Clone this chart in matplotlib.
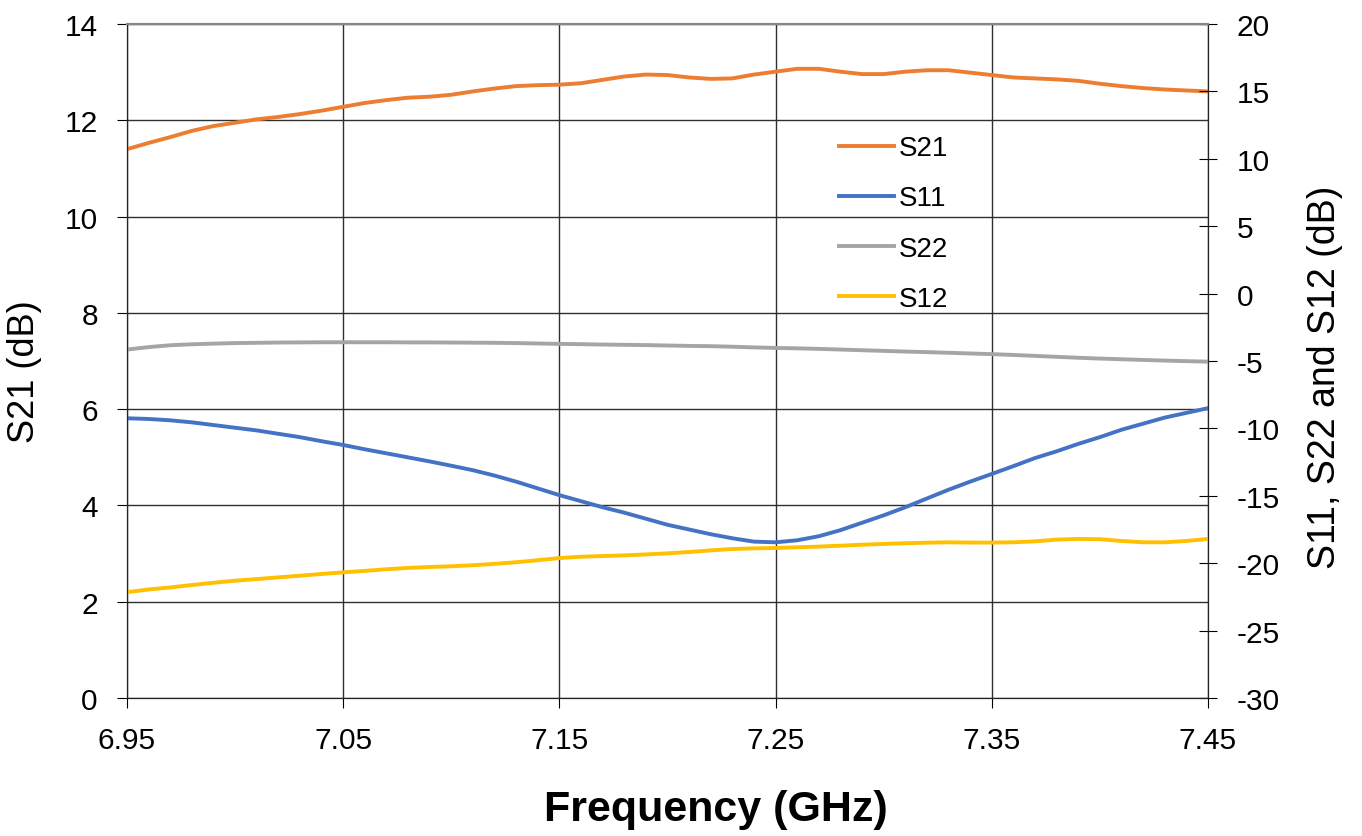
import matplotlib.pyplot as plt
import numpy as np

plt.rcParams["font.family"] = ["Liberation Sans", "DejaVu Sans"]
plt.rcParams["axes.unicode_minus"] = False

# frequency points, 6.95 .. 7.45 GHz every 10 MHz
freq_ghz = np.round(np.linspace(6.95, 7.45, 51), 2)

s21_db = [11.40, 11.53, 11.65, 11.78, 11.88, 11.95, 12.02, 12.07, 12.13, 12.20,
          12.28, 12.36, 12.42, 12.47, 12.49, 12.53, 12.60, 12.66, 12.71, 12.73,
          12.74, 12.77, 12.84, 12.91, 12.95, 12.94, 12.89, 12.86, 12.87, 12.95,
          13.01, 13.07, 13.07, 13.01, 12.96, 12.96, 13.01, 13.04, 13.04, 12.99,
          12.94, 12.89, 12.87, 12.85, 12.82, 12.76, 12.71, 12.67, 12.64, 12.62,
          12.60]

s11_db = [-9.25, -9.30, -9.40, -9.55, -9.75, -9.95, -10.15, -10.40, -10.65, -10.95,
          -11.23, -11.55, -11.85, -12.15, -12.45, -12.77, -13.10, -13.50, -13.95, -14.45,
          -14.95, -15.40, -15.85, -16.25, -16.70, -17.15, -17.50, -17.85, -18.15, -18.40,
          -18.45, -18.30, -18.00, -17.55, -17.00, -16.45, -15.85, -15.20, -14.55, -13.95,
          -13.38, -12.80, -12.20, -11.70, -11.15, -10.65, -10.10, -9.65, -9.20, -8.85,
          -8.50]

s22_db = [-4.15, -3.97, -3.83, -3.76, -3.71, -3.67, -3.65, -3.63, -3.62, -3.61,
          -3.61, -3.61, -3.61, -3.62, -3.62, -3.63, -3.64, -3.65, -3.67, -3.70,
          -3.73, -3.75, -3.78, -3.80, -3.82, -3.85, -3.88, -3.90, -3.94, -3.99,
          -4.03, -4.06, -4.10, -4.15, -4.20, -4.25, -4.30, -4.34, -4.39, -4.44,
          -4.49, -4.55, -4.62, -4.69, -4.76, -4.82, -4.87, -4.92, -4.97, -5.01,
          -5.05]

s12_db = [-22.15, -21.95, -21.80, -21.62, -21.45, -21.30, -21.18, -21.05, -20.93, -20.80,
          -20.68, -20.57, -20.45, -20.35, -20.28, -20.23, -20.15, -20.05, -19.93, -19.78,
          -19.62, -19.52, -19.47, -19.42, -19.35, -19.27, -19.17, -19.05, -18.95, -18.90,
          -18.87, -18.82, -18.77, -18.70, -18.63, -18.57, -18.52, -18.48, -18.45, -18.47,
          -18.47, -18.45, -18.38, -18.25, -18.20, -18.22, -18.35, -18.45, -18.45, -18.35,
          -18.20]

x_ticks = [6.95, 7.05, 7.15, 7.25, 7.35, 7.45]
x_tick_labels = ["6.95", "7.05", "7.15", "7.25", "7.35", "7.45"]

fig = plt.figure(figsize=(13.62, 8.37), dpi=100)
ax = fig.add_axes([0.0932, 0.1649, 0.7937, 0.8052])
ax2 = ax.twinx()

lw = 2.8
l21, = ax.plot(freq_ghz, s21_db, color="#ED7D31", lw=lw, label="S21")
l11, = ax2.plot(freq_ghz, s11_db, color="#4472C4", lw=lw, label="S11")
l22, = ax2.plot(freq_ghz, s22_db, color="#A5A5A5", lw=lw, label="S22")
l12, = ax2.plot(freq_ghz, s12_db, color="#FFC000", lw=lw, label="S12")

ax.set_xlim(6.95, 7.45)
ax.set_ylim(0, 14)
ax.set_yticks(range(0, 15, 2))
ax.set_xticks(x_ticks)
ax.set_xticklabels(x_tick_labels)
ax2.set_ylim(-30, 20)
ax2.set_yticks(range(-30, 21, 5))

ax.grid(True, color="#303030", lw=1.0)
ax.set_axisbelow(True)

ax.tick_params(axis="x", length=7, direction="out", pad=13, labelsize=21.5)
ax.tick_params(axis="y", length=7, direction="out", pad=14, labelsize=21.5)
ax2.tick_params(axis="y", length=13, direction="inout", pad=14, labelsize=21.5)

for a in (ax, ax2):
    a.spines["top"].set_color("#888888")
    a.spines["top"].set_linewidth(1.5)
    a.spines["bottom"].set_color("#222222")
    a.spines["left"].set_color("#222222")
    a.spines["right"].set_color("#222222")

ax.set_ylabel("S21 (dB)", fontsize=26)
ax.yaxis.set_label_coords(-0.079, 0.485)
ax2.set_ylabel("S11, S22 and S12 (dB)", fontsize=27)
ax2.yaxis.set_label_coords(1.092, 0.478)
ax.set_xlabel("Frequency (GHz)", fontsize=31, fontweight="bold")
ax.xaxis.set_label_coords(0.545, -0.135)

ax2.legend(handles=[l21, l11, l22, l12], loc="upper left",
           bbox_to_anchor=(0.636, 0.872), frameon=False, fontsize=20,
           handlelength=1.95, handletextpad=0.2, labelspacing=0.87)

fig.savefig("out.png", dpi=100)
